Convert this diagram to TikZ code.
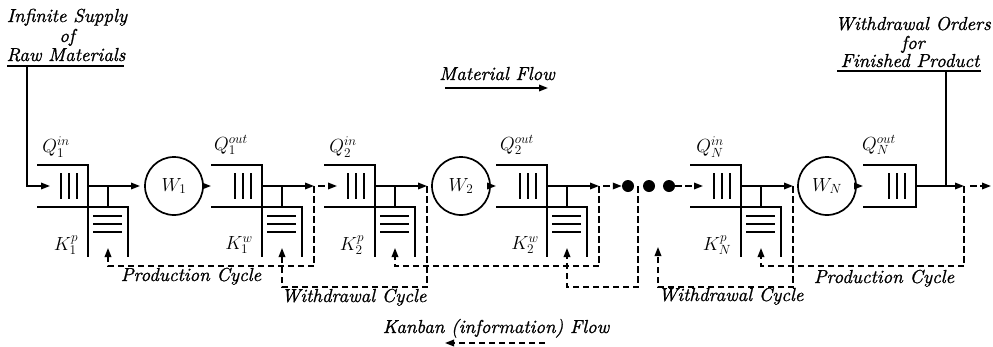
\RequirePackage{fix-cm}
\documentclass[tikz,border=0pt]{standalone}
\usepackage{fontspec}
\setmainfont{lmroman10-regular.otf}[ItalicFont=lmroman10-italic.otf, ItalicFeatures={FakeBold=0.9}]
\usetikzlibrary{arrows.meta}
\tikzset{
  ln/.style={line width=1.7pt},
  arr/.style={ln,-{Triangle[length=9pt,width=6.5pt]}},
  kan/.style={arr,dash pattern=on 6.5pt off 3.5pt},
  txt/.style={font=\fontsize{18.8}{21}\selectfont\itshape, inner sep=0pt},
  lbl/.style={font=\fontsize{19}{21}\selectfont, inner sep=0pt},
  wst/.style={circle,draw,ln,minimum size=58pt,inner sep=0pt,font=\fontsize{19}{21}\selectfont},
  dot/.style={circle,fill,minimum size=12pt,inner sep=0pt},
  kq/.pic={
    \draw[ln] (-51,-21) -- (0,-21) -- (0,71);
    \draw[ln] (-51,21) -- (40,21) -- (40,71);
    \foreach \x in {-27,-19,-11} \draw[ln] (\x,-13) -- (\x,13);
    \foreach \y in {30,38,46} \draw[ln] (5,\y) -- (34,\y);
    \draw[ln] (20,0) -- (20,21);
    \coordinate (-r) at (0,0);
    \coordinate (-in) at (-38,0);
    \coordinate (-left) at (-51,0);
    \coordinate (-out) at (52,0);
    \coordinate (-k) at (20,62);
    \coordinate (-kb) at (20,80);
    \coordinate (-kw) at (20,101);
  }
}
\begin{document}
\begin{tikzpicture}[x=1pt,y=-1pt]
\useasboundingbox (0,0) rectangle (993,346);

% queue/kanban buffers
\pic (q1) at (88,186) {kq};
\pic (r1) at (262,186) {kq};
\pic (q2) at (375,186) {kq};
\pic (r2) at (547,186) {kq};
\pic (qn) at (741,186) {kq};
% last output buffer
\draw[ln] (863,165) -- (916,165) -- (916,207) -- (863,207);
\foreach \x in {889,897,905} \draw[ln] (\x,173) -- (\x,199);
\coordinate (rn-left) at (863,186);
\coordinate (rn-r) at (916,186);
\coordinate (rn-out) at (964,186);
\coordinate (endp) at (991,186);

% workstations
\node[wst] (w1) at (174,186) {$W_1$};
\node[wst] (w2) at (461,186) {$W_2$};
\node[wst] (wn) at (827,186) {$W_N$};

% dots
\node[dot] (d1) at (628,186) {};
\node[dot] (d2) at (649,186) {};
\node[dot] (d3) at (669,186) {};
\coordinate (gap) at (638,186);

% supply
\node[txt,anchor=base] (t1) at (67,22) {Infinite Supply};
\node[txt,anchor=base] (t2) at (67,42) {of};
\node[txt,anchor=base] (t3) at (66,61) {Raw Materials};
\coordinate (ul1) at (7,66);
\coordinate (ur1) at (124,66);
\coordinate (src) at (27,66);
\draw[ln] (ul1) -- (ur1);
\draw[arr] (src) |- (q1-in);

% orders
\node[txt,anchor=base] (o1) at (913,30) {Withdrawal Orders};
\node[txt,anchor=base] (o2) at (913,49) {for};
\node[txt,anchor=base] (o3) at (910,67) {Finished Product};
\coordinate (ul2) at (837,71);
\coordinate (ur2) at (981,71);
\coordinate (wo) at (946,71);
\draw[ln] (ul2) -- (ur2);
\draw[ln] (wo) -- (wo |- rn-r);

% material flow
\draw[arr] (q1-r) -- (q1-out);
\draw[arr] (w1.east) -- (r1-left);
\draw[arr] (r1-r) -- (r1-out);
\draw[kan] ([xshift=4pt]r1-out) -- (q2-in);
\draw[arr] (q2-r) -- (q2-out);
\draw[arr] (w2.east) -- (r2-left);
\draw[arr] (r2-r) -- (r2-out);
\draw[kan] ([xshift=4pt]r2-out) -- (d1.west);
\draw[kan] (d3.east) -- (qn-in);
\draw[arr] (qn-r) -- (qn-out);
\draw[arr] (wn.east) -- (rn-left);
\draw[arr] (rn-r) -- (rn-out);
\draw[kan] ([xshift=6pt]rn-out) -- (endp);

% kanban cycles
\coordinate (wk) at (658,287);
\coordinate (wka) at (658,247);
\draw[kan] (r1-out) -- (r1-out |- q1-kb) -- (q1-kb) -- (q1-k);
\draw[kan] (q2-out) -- (q2-out |- r1-kw) -- (r1-kw) -- (r1-k);
\draw[kan] (r2-out) -- (r2-out |- q2-kb) -- (q2-kb) -- (q2-k);
\draw[kan] (gap) -- (gap |- r2-kw) -- (r2-kw) -- (r2-k);
\draw[kan] (qn-out) -- (qn-out |- wk) -- (wk) -- (wka);
\draw[kan] (rn-out) -- (rn-out |- qn-kb) -- (qn-kb) -- (qn-k);

% buffer labels
\node[lbl] (lq1) at (56,147) {$Q_1^{in}$};
\node[lbl] (lk1) at (66,245) {$K_1^{p}$};
\node[lbl] (lr1) at (231,145) {$Q_1^{out}$};
\node[lbl] (lw1) at (239,245) {$K_1^{w}$};
\node[lbl] (lq2) at (343,147) {$Q_2^{in}$};
\node[lbl] (lk2) at (352,245) {$K_2^{p}$};
\node[lbl] (lr2) at (517,145) {$Q_2^{out}$};
\node[lbl] (lw2) at (525,245) {$K_2^{w}$};
\node[lbl] (lqn) at (710,147) {$Q_N^{in}$};
\node[lbl] (lkn) at (717,245) {$K_N^{p}$};
\node[lbl] (lrn) at (879,145) {$Q_N^{out}$};

% cycle labels
\node[txt,anchor=base] (pc1) at (191,281) {Production Cycle};
\node[txt,anchor=base] (wc1) at (354,302) {Withdrawal Cycle};
\node[txt,anchor=base] (wc2) at (731,301) {Withdrawal Cycle};
\node[txt,anchor=base] (pc2) at (884,283) {Production Cycle};

% legend
\node[txt,anchor=base] (mf) at (497,80) {Material Flow};
\coordinate (mfa) at (445,88);
\coordinate (mfb) at (548,88);
\draw[arr] (mfa) -- (mfb);
\node[txt,anchor=base] (kf) at (496,333) {Kanban (information) Flow};
\coordinate (kfa) at (545,343);
\coordinate (kfb) at (445,343);
\draw[kan] (kfa) -- (kfb);
\end{tikzpicture}
\end{document}
